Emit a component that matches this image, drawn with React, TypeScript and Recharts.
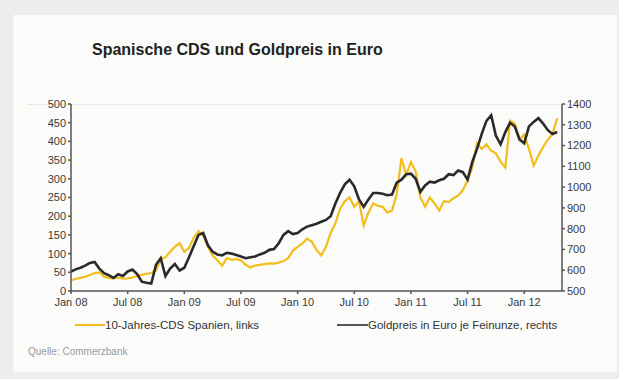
import React from 'react';
import { LineChart, Line, XAxis, YAxis } from 'recharts';

// half-monthly readings, Jan 2008 .. mid-Apr 2012
const cds = [
  29, 32, 35, 38, 43, 48, 50, 38, 35, 34, 36, 33,
  34, 36, 40, 43, 46, 48, 55, 85, 90, 105, 118, 128,
  105, 115, 142, 160, 148, 118, 95, 82, 68, 88, 83, 85,
  82, 70, 63, 68, 70, 72, 74, 73, 76, 80, 88, 108,
  118, 127, 140, 132, 110, 95, 118, 155, 181, 220, 240, 250,
  225, 240, 175, 210, 234, 228, 225, 210, 215, 260, 355, 310,
  345, 320, 250, 225, 250, 234, 215, 240, 238, 248, 255, 270,
  295, 330, 395, 380, 392, 375, 368, 345, 330, 455, 448, 405,
  418, 380, 335, 362, 385, 405, 420, 462,
];

const gold = [
  594, 604, 612, 622, 635, 640, 608, 586, 576, 563, 581, 572,
  594, 603, 581, 545, 540, 536, 626, 658, 572, 608, 630, 599,
  612, 662, 716, 770, 779, 720, 689, 676, 671, 684, 680, 673,
  666, 658, 662, 666, 676, 684, 698, 702, 730, 770, 788, 774,
  779, 797, 810, 817, 824, 833, 842, 860, 921, 972, 1013, 1035,
  1004, 941, 905, 941, 972, 972, 968, 961, 964, 1022, 1036, 1062,
  1065, 1040, 977, 1008, 1026, 1022, 1033, 1040, 1062, 1058, 1080, 1072,
  1036, 1121, 1184, 1256, 1319, 1346, 1247, 1206, 1265, 1310, 1292, 1229,
  1211, 1292, 1314, 1332, 1306, 1274, 1256, 1265,
];

const xTicks = [0, 6, 12, 18, 24, 30, 36, 42, 48];
const xLabels = ['Jan 08', 'Jul 08', 'Jan 09', 'Jul 09', 'Jan 10', 'Jul 10', 'Jan 11', 'Jul 11', 'Jan 12'];
const leftTicks = [0, 50, 100, 150, 200, 250, 300, 350, 400, 450, 500];
const rightTicks = [500, 600, 700, 800, 900, 1000, 1100, 1200, 1300, 1400];

const data = cds.map((v, i) => ({ m: i / 2, cds: v, gold: gold[i] }));

const font = '"Liberation Sans", Arial, sans-serif';
const tickStyle = { fontSize: 11, fill: '#3a3a3a', fontFamily: font };

export default function App() {
  return (
    <div style={{ position: 'absolute', left: 0, top: 0, width: 619, height: 379, background: '#ededed', fontFamily: font }}>
      <div style={{ position: 'absolute', left: 13, top: 15, width: 604, height: 357, background: '#fbfbf9' }} />
      <div style={{ position: 'absolute', left: 92, top: 41, fontSize: 16, fontWeight: 'bold', color: '#222' }}>
        Spanische CDS und Goldpreis in Euro
      </div>
      <div style={{ position: 'absolute', left: 28, top: 104, width: 552, borderTop: '1px dotted #e6dfa0' }} />
      <div style={{ position: 'absolute', left: 0, top: 0 }}>
        <LineChart width={619} height={379} data={data} margin={{ top: 104, right: 17, bottom: 58, left: 31 }}>
          <XAxis
            dataKey="m"
            type="number"
            domain={[0, 52]}
            ticks={xTicks}
            tickFormatter={(v: number) => xLabels[xTicks.indexOf(v)]}
            tick={{ ...tickStyle, dy: 2 }}
            stroke="#555"
            strokeWidth={1.5}
            tickSize={3}
            height={30}
          />
          <YAxis
            yAxisId="left"
            domain={[0, 500]}
            ticks={leftTicks}
            interval={0}
            tick={tickStyle}
            stroke="#555"
            strokeWidth={1.5}
            tickSize={3}
            width={40}
          />
          <YAxis
            yAxisId="right"
            orientation="right"
            domain={[500, 1400]}
            ticks={rightTicks}
            interval={0}
            tick={tickStyle}
            stroke="#555"
            strokeWidth={1.5}
            tickSize={3}
            width={40}
          />
          <Line yAxisId="left" dataKey="cds" stroke="#f3bd1c" strokeWidth={2.2} dot={false} isAnimationActive={false} />
          <Line yAxisId="right" dataKey="gold" stroke="#2a2a2a" strokeWidth={2.6} dot={false} isAnimationActive={false} />
        </LineChart>
      </div>
      <div style={{ position: 'absolute', left: 75, top: 319, fontSize: 11.5, color: '#333', display: 'flex', alignItems: 'center' }}>
        <span style={{ display: 'inline-block', width: 30, height: 2, background: '#f3bd1c' }} />
        <span>10-Jahres-CDS Spanien, links</span>
      </div>
      <div style={{ position: 'absolute', left: 337, top: 319, fontSize: 11.5, color: '#333', display: 'flex', alignItems: 'center' }}>
        <span style={{ display: 'inline-block', width: 31, height: 2, background: '#555' }} />
        <span>Goldpreis in Euro je Feinunze, rechts</span>
      </div>
      <div style={{ position: 'absolute', left: 28, top: 346, fontSize: 10, color: '#9a9a9a' }}>Quelle: Commerzbank</div>
    </div>
  );
}
